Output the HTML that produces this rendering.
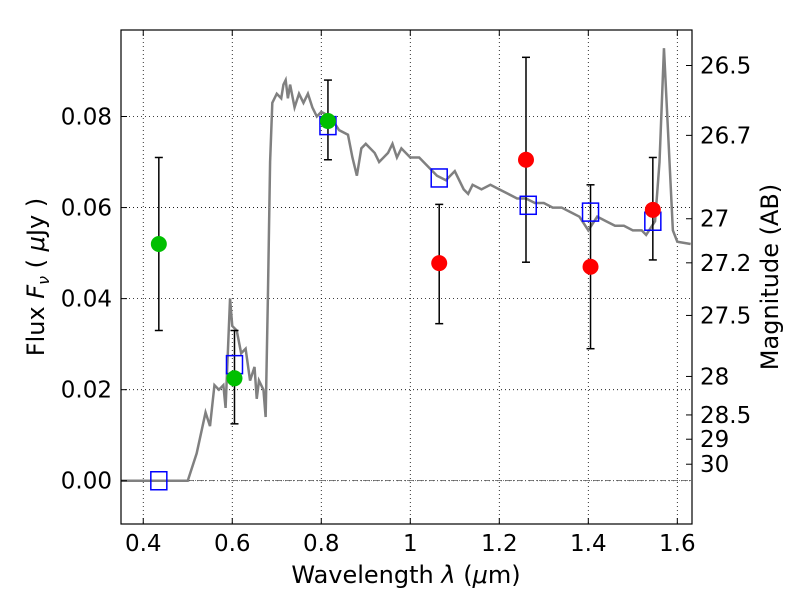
<!DOCTYPE html>
<html><head><meta charset="utf-8"><style>
body{margin:0;background:#fff}
svg{display:block;font-family:"DejaVu Sans","Liberation Sans",sans-serif}
</style></head><body>
<svg id="chart" width="800" height="600">
<rect width="800" height="600" fill="#fff"/>
<g id="grid"></g>
<g id="marks"></g>
<rect x="121" y="30" width="571" height="494" fill="none" stroke="#000" stroke-width="1.2"/>
<g id="axes" font-size="23"></g>
<text x="406" y="583" font-size="24" text-anchor="middle">Wavelength  <tspan font-style="italic">λ</tspan> (<tspan font-style="italic">μ</tspan>m)</text>
<text transform="translate(44,277) rotate(-90)" font-size="24" text-anchor="middle">Flux  <tspan font-style="italic">F<tspan font-size="16" dy="5">ν</tspan></tspan><tspan dy="-5">  ( </tspan><tspan font-style="italic">μ</tspan>Jy )</text>
<text transform="translate(778,277) rotate(-90)" font-size="24" text-anchor="middle">Magnitude (AB)</text>
</svg>
<script>
const xTicks=[0.4,0.6,0.8,1.0,1.2,1.4,1.6];
const xTickLabels=["0.4","0.6","0.8","1","1.2","1.4","1.6"];
const yTicks=[0,0.02,0.04,0.06,0.08];
const yTickLabels=["0.00","0.02","0.04","0.06","0.08"];
const magTicks=[26.5,26.7,27,27.2,27.5,28,28.5,29,30];
const magTickLabels=["26.5","26.7","27","27.2","27.5","28","28.5","29","30"];
const specWave=[0.35,0.50,0.52,0.54,0.55,0.56,0.57,0.58,0.585,0.595,0.60,0.61,0.62,0.63,0.64,0.65,0.655,0.66,0.67,0.675,0.68,0.685,0.69,0.70,0.71,0.715,0.72,0.725,0.73,0.74,0.75,0.76,0.77,0.78,0.79,0.80,0.82,0.84,0.86,0.87,0.88,0.89,0.90,0.92,0.93,0.95,0.96,0.97,0.98,1.0,1.02,1.04,1.06,1.08,1.10,1.12,1.13,1.14,1.16,1.18,1.2,1.22,1.24,1.26,1.28,1.30,1.32,1.34,1.36,1.38,1.40,1.42,1.44,1.46,1.48,1.50,1.52,1.53,1.55,1.56,1.57,1.58,1.59,1.60,1.63];
const specFlux=[0,0,0.006,0.015,0.012,0.021,0.020,0.021,0.016,0.040,0.034,0.033,0.028,0.029,0.022,0.025,0.018,0.022,0.020,0.014,0.040,0.070,0.083,0.085,0.084,0.087,0.088,0.084,0.087,0.082,0.085,0.083,0.085,0.082,0.080,0.081,0.080,0.077,0.076,0.071,0.067,0.073,0.074,0.072,0.070,0.072,0.074,0.071,0.073,0.071,0.071,0.069,0.067,0.066,0.068,0.064,0.063,0.065,0.064,0.065,0.064,0.063,0.062,0.062,0.061,0.061,0.060,0.060,0.059,0.058,0.055,0.058,0.057,0.056,0.056,0.055,0.055,0.054,0.057,0.070,0.095,0.075,0.055,0.0525,0.052];
const modelWave=[0.435,0.605,0.815,1.065,1.265,1.405,1.545];
const modelFlux=[0,0.0255,0.078,0.0665,0.0605,0.059,0.057];
const greenWave=[0.435,0.605,0.815];
const greenFlux=[0.052,0.0225,0.079];
const greenLo=[0.033,0.0125,0.0705];
const greenHi=[0.071,0.033,0.088];
const redWave=[1.065,1.26,1.405,1.545];
const redFlux=[0.0478,0.0705,0.047,0.0595];
const redLo=[0.0345,0.048,0.029,0.0485];
const redHi=[0.0607,0.093,0.065,0.071];

const X0=121,X1=692,Y0=30,Y1=524,xmin=0.35,xmax=1.633,ymin=-0.0095,ymax=0.099;
const sx=v=>X0+(v-xmin)/(xmax-xmin)*(X1-X0);
const sy=v=>Y1-(v-ymin)/(ymax-ymin)*(Y1-Y0);
const magToFlux=m=>Math.pow(10,(23.9-m)/2.5);
const NS="http://www.w3.org/2000/svg";
function mk(tag,attrs,parent){const e=document.createElementNS(NS,tag);for(const k in attrs)e.setAttribute(k,attrs[k]);parent.appendChild(e);return e;}
const grid=document.getElementById('grid'),marks=document.getElementById('marks'),axes=document.getElementById('axes');

xTicks.forEach((t,i)=>{
  const x=sx(t);
  const g=mk('line',{x1:x,x2:x,y1:Y0,y2:Y1,stroke:'#000','stroke-dasharray':'1,3','stroke-width':0.8},grid);
  
  
  mk('line',{x1:x,x2:x,y1:Y1,y2:Y1-6,stroke:'#000'},axes);
  mk('line',{x1:x,x2:x,y1:Y0,y2:Y0+6,stroke:'#000'},axes);
  const l=mk('text',{x:x,y:Y1+27,'text-anchor':'middle'},axes);l.textContent=xTickLabels[i];
  
  
});
yTicks.forEach((t,i)=>{
  const y=sy(t);
  const g=mk('line',{x1:X0,x2:X1,y1:y,y2:y,stroke:'#000','stroke-dasharray':'1,3','stroke-width':0.8},grid);
  
  
  mk('line',{x1:X0,x2:X0+6,y1:y,y2:y,stroke:'#000'},axes);
  const l=mk('text',{x:X0-9,y:y+8,'text-anchor':'end'},axes);l.textContent=yTickLabels[i];
  
  
});
magTicks.forEach((m,i)=>{
  const y=sy(magToFlux(m));
  mk('line',{x1:X1,x2:X1-6,y1:y,y2:y,stroke:'#000'},axes);
  const l=mk('text',{x:X1+8,y:y+8,'text-anchor':'start'},axes);l.textContent=magTickLabels[i];
  
  
});
const zl=mk('line',{x1:X0,x2:X1,y1:sy(0),y2:sy(0),stroke:'#000','stroke-width':0.6,'stroke-dasharray':'6,2,1,2'},marks);


const sp=mk('polyline',{points:specWave.map((w,i)=>sx(w)+','+sy(specFlux[i])).join(' '),fill:'none',stroke:'#808080','stroke-width':2.5},marks);


function errbars(ws,lo,hi){ws.forEach((w,i)=>{const x=sx(w);
  const e=mk('g',{stroke:'#000','stroke-width':1.5},marks);
  
  
  mk('line',{x1:x,x2:x,y1:sy(lo[i]),y2:sy(hi[i])},e);
  mk('line',{x1:x-4,x2:x+4,y1:sy(lo[i]),y2:sy(lo[i])},e);
  mk('line',{x1:x-4,x2:x+4,y1:sy(hi[i]),y2:sy(hi[i])},e);});}
errbars(greenWave,greenLo,greenHi);errbars(redWave,redLo,redHi);
modelWave.forEach((w,i)=>{
  const r=mk('rect',{x:sx(w)-8,y:sy(modelFlux[i])-9,width:16,height:18,fill:'none',stroke:'#0000ff','stroke-width':1.5},marks);
  
  
});
greenWave.forEach((w,i)=>{
  const c=mk('circle',{cx:sx(w),cy:sy(greenFlux[i]),r:8,fill:'#00bf00'},marks);
  
  
});
redWave.forEach((w,i)=>{
  const c=mk('circle',{cx:sx(w),cy:sy(redFlux[i]),r:8,fill:'#ff0000'},marks);
  
  
});
</script>
</body></html>
